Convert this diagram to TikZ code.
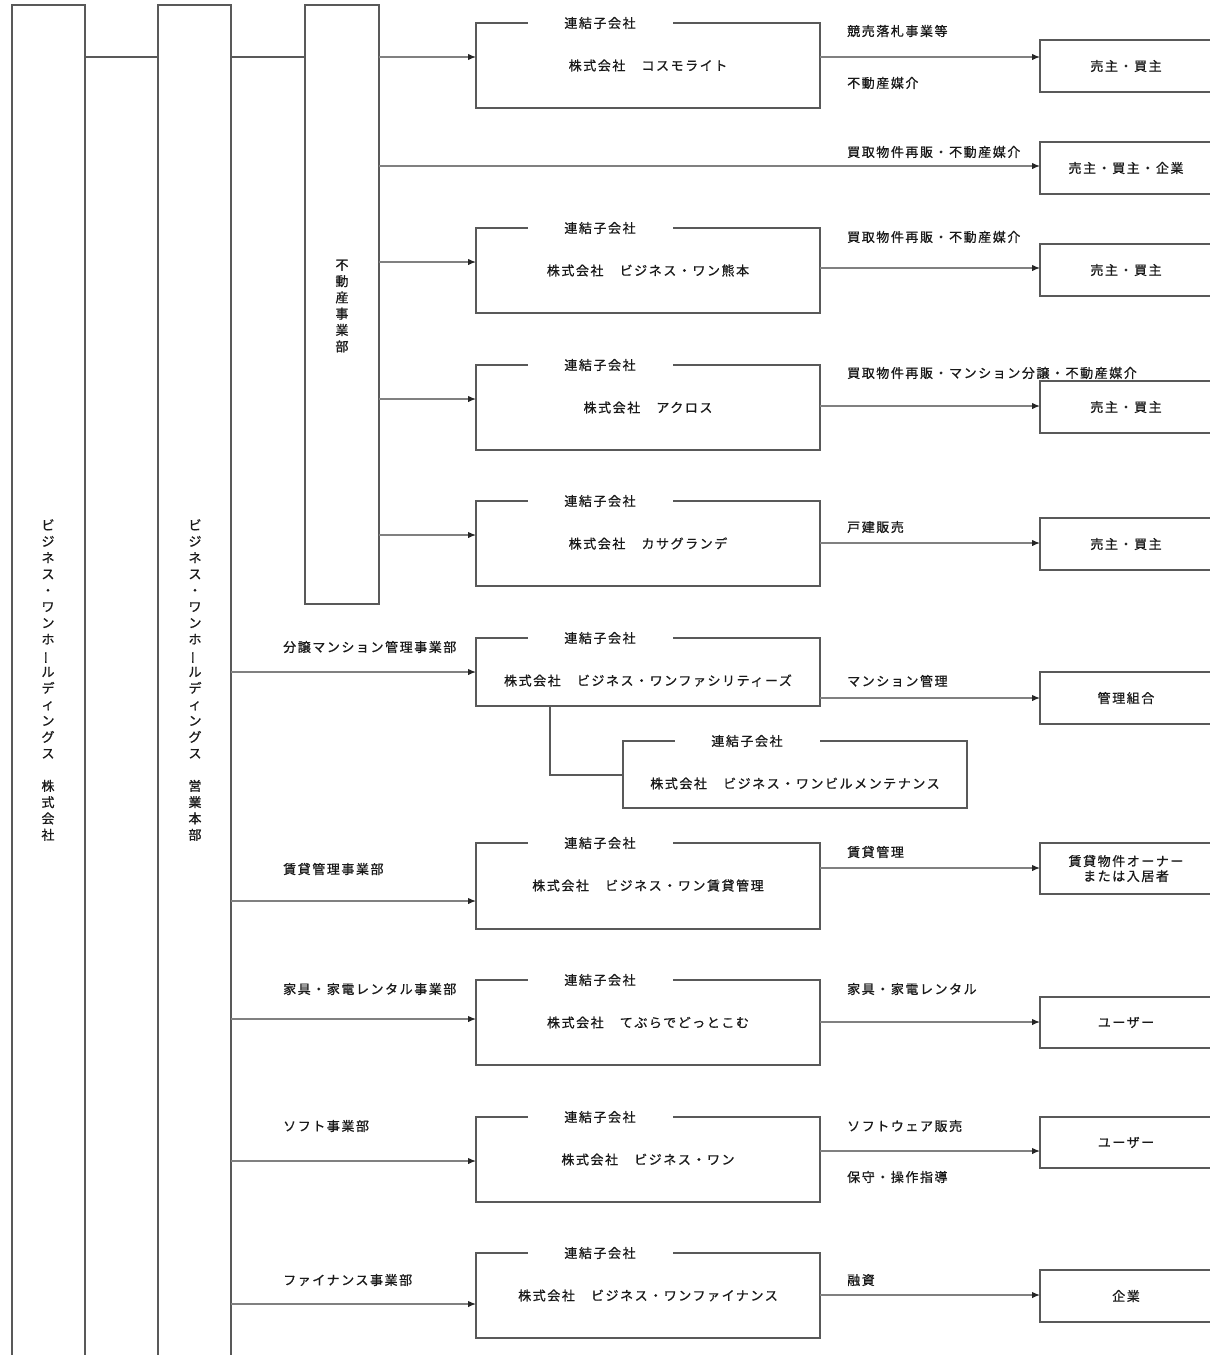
\documentclass[tikz,border=0pt]{standalone}
\usepackage{fontspec}
\usepackage{graphicx}
\setmainfont{Noto Sans CJK JP}[LetterSpace=12,FakeBold=0.9]
\usetikzlibrary{arrows.meta,calc}
\tikzset{
  frame/.style={draw=black!65, line width=1.8pt, inner sep=0pt, outer sep=0pt, anchor=north west, align=center, text=black!90},
  conn/.style={draw=black!50, line width=1.3pt},
  sconn/.style={draw=black!65, line width=1.5pt},
  arr/.style={conn, -{Latex[length=8pt,width=6.5pt,color=black!85]}},
  title/.style={fill=white, inner sep=0pt, minimum width=145pt, minimum height=6pt, text=black!90},
  txt/.style={inner sep=0pt, text=black!90},
  lab/.style={txt, anchor=west},
  vtext/.style={txt, align=center, font=\fontsize{13}{16.3}\selectfont},
}
\newcommand{\vbar}{\rotatebox[origin=c]{90}{ー}}
\newcommand{\subco}[5]{%
  \node[frame, minimum width=#3pt, minimum height=#4pt] (#1) at (#2) {};
  \node[title] (#1h) at ($(#1.north west)+(124,0)$) {連結子会社};
  \node[txt] (#1t) at ($(#1.north)+(0,42.5)$) {#5};
}
\begin{document}
\begin{tikzpicture}[x=1pt,y=-1pt,font=\fontsize{13}{16}\selectfont]
\useasboundingbox (0,0) rectangle (1210,1355);

% tall boxes
\node[frame, minimum width=73pt, minimum height=1360pt] (hold) at (12,5) {};
\node[frame, minimum width=73pt, minimum height=1360pt] (sales) at (158,5) {};
\node[frame, minimum width=74pt, minimum height=599pt] (dept) at (305,5) {};

\node[vtext] (holdt) at (48,680) {ビ\\ジ\\ネ\\ス\\・\\ワ\\ン\\ホ\\\vbar\\ル\\デ\\ィ\\ン\\グ\\ス\\　\\株\\式\\会\\社};
\node[vtext] (salest) at (195,680) {ビ\\ジ\\ネ\\ス\\・\\ワ\\ン\\ホ\\\vbar\\ル\\デ\\ィ\\ン\\グ\\ス\\　\\営\\業\\本\\部};
\node[vtext] (deptt) at (342,306) {不\\動\\産\\事\\業\\部};

\draw[sconn] (hold.east |- 0,57) -- (sales.west |- 0,57);
\draw[sconn] (sales.east |- 0,57) -- (dept.west |- 0,57);

% subsidiaries
\subco{c1}{476,23}{344}{85}{株式会社　コスモライト}
\subco{c3}{476,228}{344}{85}{株式会社　ビジネス・ワン熊本}
\subco{c4}{476,365}{344}{85}{株式会社　アクロス}
\subco{c5}{476,501}{344}{85}{株式会社　カサグランデ}
\subco{c6}{476,638}{344}{68}{株式会社　ビジネス・ワンファシリティーズ}
\subco{c6b}{623,741}{344}{67}{株式会社　ビジネス・ワンビルメンテナンス}
\subco{c7}{476,843}{344}{86}{株式会社　ビジネス・ワン賃貸管理}
\subco{c8}{476,980}{344}{85}{株式会社　てぶらでどっとこむ}
\subco{c9}{476,1117}{344}{85}{株式会社　ビジネス・ワン}
\subco{c10}{476,1253}{344}{85}{株式会社　ビジネス・ワンファイナンス}

% customer boxes
\node[frame, minimum width=172pt, minimum height=52pt] (r1) at (1040,40) {売主・買主};
\node[frame, minimum width=172pt, minimum height=52pt] (r2) at (1040,142) {売主・買主・企業};
\node[frame, minimum width=172pt, minimum height=52pt] (r3) at (1040,244) {売主・買主};
\node[frame, minimum width=172pt, minimum height=52pt] (r4) at (1040,381) {売主・買主};
\node[frame, minimum width=172pt, minimum height=52pt] (r5) at (1040,518) {売主・買主};
\node[frame, minimum width=172pt, minimum height=52pt] (r6) at (1040,672) {管理組合};
\node[frame, minimum width=172pt, minimum height=51pt, font=\fontsize{13}{15}\selectfont] (r7) at (1040,843) {賃貸物件オーナー\\または入居者};
\node[frame, minimum width=172pt, minimum height=51pt] (r8) at (1040,997) {ユーザー};
\node[frame, minimum width=172pt, minimum height=51pt] (r9) at (1040,1117) {ユーザー};
\node[frame, minimum width=172pt, minimum height=52pt] (r10) at (1040,1270) {企業};

% incoming arrows
\draw[arr] (dept.east |- 0,57) -- (c1.west |- 0,57);
\draw[arr] (dept.east |- 0,166) -- (r2.west |- 0,166);
\draw[arr] (dept.east |- 0,262) -- (c3.west |- 0,262);
\draw[arr] (dept.east |- 0,399) -- (c4.west |- 0,399);
\draw[arr] (dept.east |- 0,535) -- (c5.west |- 0,535);
\draw[arr] (sales.east |- 0,672) -- (c6.west |- 0,672);
\draw[arr] (sales.east |- 0,901) -- (c7.west |- 0,901);
\draw[arr] (sales.east |- 0,1019) -- (c8.west |- 0,1019);
\draw[arr] (sales.east |- 0,1161) -- (c9.west |- 0,1161);
\draw[arr] (sales.east |- 0,1304) -- (c10.west |- 0,1304);
\draw[sconn] (c6.south -| 550,0) |- (c6b.west |- 0,775);

% outgoing arrows
\draw[arr] (c1.east |- 0,57) -- (r1.west |- 0,57);
\draw[arr] (c3.east |- 0,268) -- (r3.west |- 0,268);
\draw[arr] (c4.east |- 0,406) -- (r4.west |- 0,406);
\draw[arr] (c5.east |- 0,543) -- (r5.west |- 0,543);
\draw[arr] (c6.east |- 0,698) -- (r6.west |- 0,698);
\draw[arr] (c7.east |- 0,868) -- (r7.west |- 0,868);
\draw[arr] (c8.east |- 0,1022) -- (r8.west |- 0,1022);
\draw[arr] (c9.east |- 0,1151) -- (r9.west |- 0,1151);
\draw[arr] (c10.east |- 0,1295) -- (r10.west |- 0,1295);

% labels
\node[lab] (l1a) at (847,31) {競売落札事業等};
\node[lab] (l1b) at (847,83) {不動産媒介};
\node[lab] (l2) at (847,152) {買取物件再販・不動産媒介};
\node[lab] (l3) at (847,237) {買取物件再販・不動産媒介};
\node[lab] (l4) at (847,373) {買取物件再販・マンション分譲・不動産媒介};
\node[lab] (l5) at (847,527) {戸建販売};
\node[lab] (l6) at (847,681) {マンション管理};
\node[lab] (l7) at (847,852) {賃貸管理};
\node[lab] (l8) at (847,989) {家具・家電レンタル};
\node[lab] (l9a) at (847,1126) {ソフトウェア販売};
\node[lab] (l9b) at (847,1177) {保守・操作指導};
\node[lab] (l10) at (847,1280) {融資};

\node[lab] (d6) at (283,647) {分譲マンション管理事業部};
\node[lab] (d7) at (283,869) {賃貸管理事業部};
\node[lab] (d8) at (283,989) {家具・家電レンタル事業部};
\node[lab] (d9) at (283,1126) {ソフト事業部};
\node[lab] (d10) at (283,1280) {ファイナンス事業部};
\end{tikzpicture}
\end{document}
